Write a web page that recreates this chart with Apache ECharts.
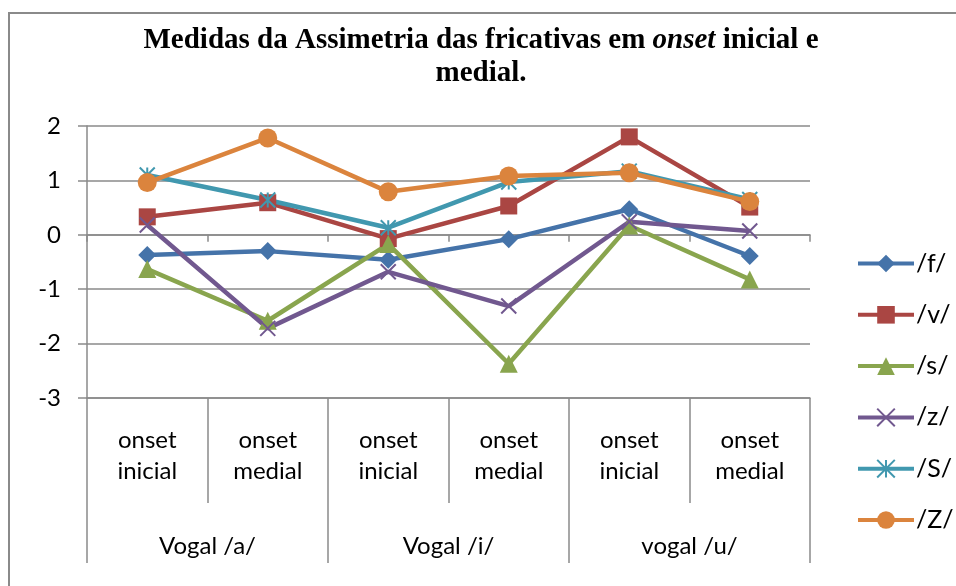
<!DOCTYPE html>
<html>
<head>
<meta charset="utf-8">
<script src="https://cdn.jsdelivr.net/npm/echarts@6/dist/echarts.min.js"></script>
<style>
  html, body { margin: 0; padding: 0; background: #fff; }
  #chart { width: 956px; height: 586px; }
</style>
</head>
<body>
<div id="chart"></div>
<script>
// categorias (dois níveis)
const positions = ['onset\ninicial', 'onset\nmedial', 'onset\ninicial', 'onset\nmedial', 'onset\ninicial', 'onset\nmedial'];
const vowels = ['Vogal /a/', 'Vogal /i/', 'vogal /u/'];
const yTicks = [-3, -2, -1, 0, 1, 2];

// valores
const fVals = [-0.37, -0.30, -0.46, -0.08, 0.47, -0.39];
const vVals = [0.33, 0.59, -0.07, 0.53, 1.80, 0.51];
const sVals = [-0.63, -1.58, -0.17, -2.37, 0.17, -0.82];
const zVals = [0.18, -1.72, -0.68, -1.31, 0.24, 0.07];
const SVals = [1.10, 0.64, 0.13, 0.97, 1.17, 0.65];
const ZVals = [0.96, 1.78, 0.79, 1.08, 1.14, 0.61];

const gray = '#8a8a8a';
const labelFont = 'Lato, "Open Sans", sans-serif';

const xMark = 'path://M0,0L10,10M10,0L0,10';
const starMark = 'path://M5,0L5,10M0,0L10,10M10,0L0,10';

const defs = [
  { name: '/f/', data: fVals, color: '#4573A9', symbol: 'diamond', size: 18 },
  { name: '/v/', data: vVals, color: '#AA4643', symbol: 'rect', size: 17 },
  { name: '/s/', data: sVals, color: '#89A54E', symbol: 'triangle', size: 18 },
  { name: '/z/', data: zVals, color: '#71588F', symbol: xMark, size: 15, stroke: true },
  { name: '/S/', data: SVals, color: '#4198AF', symbol: starMark, size: 15, stroke: true },
  { name: '/Z/', data: ZVals, color: '#DB843D', symbol: 'circle', size: 19 }
];

const chart = echarts.init(document.getElementById('chart'));

chart.setOption({
  animation: false,
  title: {
    left: 476,
    textAlign: 'center',
    top: 19,
    text: '{b|Medidas da Assimetria das fricativas em }{i|onset}{b| inicial e}\n{b|medial.}',
    textStyle: {
      rich: {
        b: { fontFamily: '"Liberation Serif", "Times New Roman", serif', fontWeight: 'bold', fontSize: 29, lineHeight: 33, color: '#000' },
        i: { fontFamily: '"Liberation Serif", "Times New Roman", serif', fontWeight: 'bold', fontStyle: 'italic', fontSize: 29, lineHeight: 33, color: '#000' }
      }
    }
  },
  graphic: [{
    type: 'rect',
    shape: { x: 9, y: 13, width: 1000, height: 700 },
    style: { fill: 'none', stroke: gray, lineWidth: 2 },
    silent: true
  }],
  legend: {
    orient: 'vertical',
    left: 851,
    top: 246,
    itemWidth: 56,
    itemHeight: 22,
    itemGap: 26.3,
    lineStyle: { width: 4 },
    textStyle: { fontFamily: labelFont, fontSize: 25, lineHeight: 22, color: '#000', padding: [0, 0, 0, -3] },
    data: defs.map(d => d.name)
  },
  grid: { left: 87, right: 146, top: 126, bottom: 188 },
  xAxis: [
    {
      type: 'category',
      data: positions,
      position: 'bottom',
      axisLine: { show: true, onZero: false, lineStyle: { color: gray, width: 1.5 } },
      axisTick: { show: true, interval: 0, length: 105, lineStyle: { color: gray, width: 1.5 } },
      axisLabel: { interval: 0, margin: 27, fontFamily: labelFont, fontSize: 24, lineHeight: 31, color: '#000' }
    },
    {
      type: 'category',
      data: positions,
      position: 'bottom',
      axisLine: { show: true, onZero: true, lineStyle: { color: gray, width: 1.5 } },
      axisTick: { show: true, interval: 0, length: 7, lineStyle: { color: gray, width: 1.5 } },
      axisLabel: { show: false }
    },
    {
      type: 'category',
      data: vowels,
      position: 'bottom',
      axisLine: { show: false, onZero: false },
      axisTick: { show: true, interval: 0, length: 165, lineStyle: { color: gray, width: 1.5 } },
      axisLabel: { interval: 0, margin: 136, fontFamily: labelFont, fontSize: 24, color: '#000' }
    }
  ],
  yAxis: {
    type: 'value',
    min: yTicks[0],
    max: yTicks[yTicks.length - 1],
    interval: 1,
    axisLine: { show: true, lineStyle: { color: gray, width: 1.5 } },
    axisTick: { show: true, length: 9, lineStyle: { color: gray, width: 1.5 } },
    axisLabel: { margin: 26, fontFamily: labelFont, fontSize: 24, color: '#000' },
    splitLine: { show: true, lineStyle: { color: gray, width: 1.5 } }
  },
  series: defs.map(d => ({
    name: d.name,
    type: 'line',
    xAxisIndex: 0,
    data: d.data,
    symbol: d.symbol,
    symbolSize: d.size,
    showAllSymbol: true,
    lineStyle: { color: d.color, width: 4.5 },
    itemStyle: d.stroke
      ? { color: d.color, borderColor: d.color, borderWidth: 2 }
      : { color: d.color, borderWidth: 0 },
    emphasis: { disabled: true }
  }))
});
</script>
</body>
</html>
